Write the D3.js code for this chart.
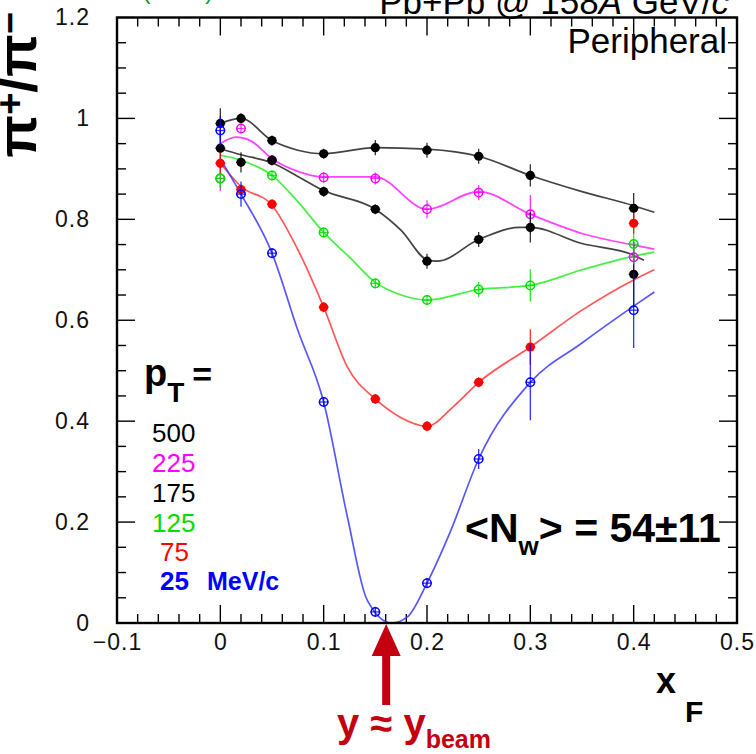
<!DOCTYPE html>
<html>
<head>
<meta charset="utf-8">
<script src="https://cdn.jsdelivr.net/npm/d3@7"></script>
<style>
  html, body { margin: 0; padding: 0; background: #fff; }
  svg { display: block; font-family: "Liberation Sans", Arial, Helvetica, sans-serif; }
</style>
</head>
<body>
<svg id="chart" width="756" height="754"></svg>
<script>
// Measured x_F bins
const xF = [0, 0.02, 0.05, 0.1, 0.15, 0.2, 0.25, 0.3, 0.4];

// pi+/pi- ratio per pT bin (MeV/c) and its errors
const pt500 = [0.990, 1.000, 0.956, 0.930, 0.942, 0.937, 0.925, 0.887, 0.822];
const err500 = [0.03, 0.01, 0.01, 0.01, 0.015, 0.015, 0.015, 0.022, 0.03];
const pt225 = [0.881, 0.980, 0.917, 0.883, 0.881, 0.820, 0.853, 0.810, 0.725];
const err225 = [0.025, 0.01, 0.01, 0.01, 0.012, 0.018, 0.015, 0.038, 0.03];
const pt175 = [0.941, 0.913, 0.917, 0.855, 0.820, 0.717, 0.760, 0.784, 0.691];
const err175 = [0.035, 0.02, 0.01, 0.01, 0.01, 0.015, 0.015, 0.03, 0.065];
const pt125 = [0.881, null, 0.887, 0.774, 0.673, 0.640, 0.661, 0.669, 0.751];
const err125 = [0.02, null, 0.01, 0.01, 0.01, 0.01, 0.015, 0.032, 0.04];
const pt75 = [0.911, 0.859, 0.830, 0.626, 0.444, 0.390, 0.477, 0.547, 0.792];
const err75 = [0.02, 0.01, 0.01, 0.01, 0.01, 0.01, 0.01, 0.035, 0.02];
const pt25 = [0.976, 0.850, 0.733, 0.438, 0.022, 0.079, 0.325, 0.477, 0.620];
const err25 = [0.03, 0.025, 0.01, 0.01, 0.01, 0.01, 0.02, 0.075, 0.075];

// Smooth fit curves through each pT bin: [x_F, ratio]
const fit500 = [[0,0.99],[0.02,1.0],[0.05,0.956],[0.075,0.937],[0.1,0.93],[0.15,0.942],[0.2,0.939],[0.25,0.925],[0.3,0.887],[0.35,0.855],[0.4,0.827],[0.42,0.814]];
const fit225 = [[0,0.95],[0.015,0.963],[0.03,0.955],[0.05,0.92],[0.075,0.895],[0.1,0.884],[0.15,0.884],[0.2,0.82],[0.25,0.855],[0.3,0.81],[0.35,0.772],[0.4,0.749],[0.42,0.741]];
const fit175 = [[0,0.94],[0.02,0.928],[0.05,0.912],[0.075,0.885],[0.1,0.857],[0.15,0.82],[0.175,0.778],[0.2,0.72],[0.21,0.717],[0.25,0.76],[0.29,0.784],[0.3,0.784],[0.35,0.752],[0.4,0.729],[0.41,0.719]];
const fit125 = [[0,0.927],[0.02,0.917],[0.05,0.887],[0.075,0.835],[0.1,0.774],[0.125,0.725],[0.15,0.675],[0.175,0.65],[0.2,0.64],[0.25,0.661],[0.3,0.669],[0.35,0.7],[0.4,0.727],[0.42,0.735]];
const fit75 = [[0,0.911],[0.02,0.865],[0.05,0.828],[0.075,0.74],[0.1,0.626],[0.123,0.507],[0.15,0.444],[0.174,0.408],[0.2,0.39],[0.225,0.428],[0.25,0.477],[0.3,0.547],[0.35,0.62],[0.4,0.68],[0.42,0.70]];
const fit25 = [[0,0.92],[0.02,0.85],[0.05,0.733],[0.075,0.58],[0.1,0.438],[0.123,0.21],[0.142,0.046],[0.166,0.0],[0.181,0.012],[0.2,0.079],[0.222,0.178],[0.25,0.325],[0.3,0.477],[0.35,0.555],[0.4,0.628],[0.42,0.656]];

// Legend labels
const ptLabels = ["500", "225", "175", "125", "75", "25"];
const xTickLabels = ["\u22120.1", "0", "0.1", "0.2", "0.3", "0.4", "0.5"];
const yTickLabels = ["0", "0.2", "0.4", "0.6", "0.8", "1", "1.2"];

const series = [
  { pts: pt500, err: err500, fit: fit500, color: "#000000", line: "#222222", open: false },
  { pts: pt225, err: err225, fit: fit225, color: "#ff00ff", line: "#ff22ff", open: true },
  { pts: pt175, err: err175, fit: fit175, color: "#000000", line: "#222222", open: false },
  { pts: pt125, err: err125, fit: fit125, color: "#00dd00", line: "#22ee22", open: true },
  { pts: pt75,  err: err75,  fit: fit75,  color: "#ff0000", line: "#ff3a3a", open: false },
  { pts: pt25,  err: err25,  fit: fit25,  color: "#0000ff", line: "#3a3aff", open: true }
];

const svg = d3.select("#chart");
const L = 117, R = 737, T = 17.5, B = 623;

const x = d3.scaleLinear().domain([-0.1, 0.5]).range([L, R]);
const y = d3.scaleLinear().domain([0, 1.2]).range([B, T]);

// Frame ticks (inward on all four sides)
const majorLen = 18, minorLen = 9;
const xMinor = d3.range(-0.1, 0.5001, 0.02).map(v => +v.toFixed(3));
const yMinor = d3.range(0, 1.2001, 0.05).map(v => +v.toFixed(3));
const isMajorX = v => Math.abs(Math.round(v * 10) - v * 10) < 1e-6;
const isMajorY = v => Math.abs(Math.round(v * 5) - v * 5) < 1e-6;

const axes = svg.append("g").attr("stroke", "#000").attr("fill", "none");
xMinor.forEach(v => {
  const len = isMajorX(v) ? majorLen : minorLen;
  axes.append("line").attr("x1", x(v)).attr("x2", x(v)).attr("y1", B).attr("y2", B - len).attr("stroke-width", 1.4);
  axes.append("line").attr("x1", x(v)).attr("x2", x(v)).attr("y1", T).attr("y2", T + len).attr("stroke-width", 1.4);
});
yMinor.forEach(v => {
  const len = isMajorY(v) ? majorLen : minorLen;
  axes.append("line").attr("x1", L).attr("x2", L + len).attr("y1", y(v)).attr("y2", y(v)).attr("stroke-width", 1.4);
  axes.append("line").attr("x1", R).attr("x2", R - len).attr("y1", y(v)).attr("y2", y(v)).attr("stroke-width", 1.4);
});

// Tick labels via d3 axes
const xAxis = d3.axisBottom(x)
  .tickValues([-0.1, 0, 0.1, 0.2, 0.3, 0.4, 0.5])
  .tickSize(0).tickPadding(0)
  .tickFormat((d, i) => xTickLabels[i]);
const gx = svg.append("g").attr("transform", `translate(0,${B + 5})`).call(xAxis);
gx.select(".domain").remove();
gx.selectAll("text").attr("font-size", 23).attr("fill", "#111").attr("letter-spacing", "1px")
  .attr("font-family", "Liberation Sans, Arial, sans-serif").attr("dy", "0.95em");

const yAxis = d3.axisLeft(y)
  .tickValues([0, 0.2, 0.4, 0.6, 0.8, 1.0, 1.2])
  .tickSize(0).tickPadding(0)
  .tickFormat((d, i) => yTickLabels[i]);
const gy = svg.append("g").attr("transform", `translate(${L - 27},0)`).call(yAxis);
gy.select(".domain").remove();
gy.selectAll("text").attr("font-size", 23).attr("fill", "#111").attr("letter-spacing", "1px")
  .attr("font-family", "Liberation Sans, Arial, sans-serif");

// Fit curves
const lineGen = d3.line().x(d => x(d[0])).y(d => y(d[1])).curve(d3.curveMonotoneX);
const gCurves = svg.append("g").attr("fill", "none");
series.forEach(s => {
  gCurves.append("path").attr("d", lineGen(s.fit))
    .attr("stroke", s.line).attr("stroke-width", 1.7).attr("stroke-opacity", 0.85);
});

// Data points with error bars
const gPts = svg.append("g");
series.forEach(s => {
  s.pts.forEach((v, i) => {
    if (v === null) return;
    const cx = x(xF[i]), cy = y(v), e = s.err[i];
    gPts.append("line").attr("x1", cx).attr("x2", cx).attr("y1", y(v - e)).attr("y2", y(v + e))
      .attr("stroke", s.color).attr("stroke-width", 1.3).attr("stroke-opacity", 0.8);
    gPts.append("line").attr("x1", cx - 5).attr("x2", cx + 5).attr("y1", cy).attr("y2", cy)
      .attr("stroke", s.color).attr("stroke-width", 1.3).attr("stroke-opacity", 0.8);
    if (s.open) {
      gPts.append("circle").attr("cx", cx).attr("cy", cy).attr("r", 4.2)
        .attr("fill", "none").attr("stroke", s.color).attr("stroke-width", 1.5);
    } else {
      gPts.append("circle").attr("cx", cx).attr("cy", cy).attr("r", 4.6).attr("fill", s.color);
    }
  });
});

// Frame
svg.append("rect").attr("x", L).attr("y", T).attr("width", R - L).attr("height", B - T)
  .attr("fill", "none").attr("stroke", "#000").attr("stroke-width", 2.4);

// Y axis title
svg.append("text")
  .attr("transform", "translate(36,12) rotate(-90)")
  .attr("text-anchor", "end")
  .attr("font-size", 56).attr("font-weight", "bold").attr("fill", "#000")
  .html('\u03c0<tspan dy="-13" font-size="38">+</tspan><tspan dy="13">/\u03c0</tspan><tspan dy="-13" font-size="38">\u2212</tspan>');

// X axis title
svg.append("text").attr("x", 656).attr("y", 693).attr("font-size", 36).attr("font-weight", "bold").text("x");
svg.append("text").attr("x", 685).attr("y", 722).attr("font-size", 30).attr("font-weight", "bold").text("F");

// Header texts
svg.append("text").attr("x", 143).attr("y", -1).attr("font-size", 22).attr("fill", "#009900").text("(NA49)");
svg.append("text").attr("x", 729).attr("y", 14).attr("text-anchor", "end").attr("font-size", 35).attr("fill", "#000")
  .html('Pb+Pb @ 158<tspan font-style="italic">A</tspan> GeV/<tspan font-style="italic">c</tspan>');
svg.append("text").attr("x", 727).attr("y", 53).attr("text-anchor", "end").attr("font-size", 35).attr("fill", "#000").text("Peripheral");

// Centrality annotation
svg.append("text").attr("x", 465).attr("y", 542).attr("font-size", 41).attr("font-weight", "bold").attr("fill", "#000")
  .html('&lt;N<tspan dy="13" font-size="26">w</tspan><tspan dy="-13">&gt; = 54\u00b111</tspan>');

// pT legend
svg.append("text").attr("x", 144).attr("y", 386).attr("font-size", 38).attr("font-weight", "bold").attr("fill", "#000")
  .html('p<tspan dy="16" font-size="28">T</tspan><tspan dy="-16" dx="8" font-size="34">=</tspan>');
const legColors = ["#000000", "#ff00ff", "#000000", "#00dd00", "#ff0000", "#0000ff"];
const legX = [152, 152, 152, 152, 160, 160];
const legY = [442, 472, 502, 532, 561, 590];
ptLabels.forEach((t, i) => {
  svg.append("text").attr("x", legX[i]).attr("y", legY[i]).attr("font-size", 26)
    .attr("font-weight", i === 5 ? "bold" : "normal").attr("fill", legColors[i]).text(t);
});
svg.append("text").attr("x", 207).attr("y", 590).attr("font-size", 25).attr("font-weight", "bold")
  .attr("fill", "#0000ff").text("MeV/c");

// Beam rapidity marker
const xBeam = 0.1605;
const ax = x(xBeam);
svg.append("path")
  .attr("d", `M${ax},${B + 1} L${ax - 14.5},${B + 33} L${ax - 4},${B + 33} L${ax - 4},${B + 82} L${ax + 4},${B + 82} L${ax + 4},${B + 33} L${ax + 14.5},${B + 33} Z`)
  .attr("fill", "#c40010");
svg.append("text").attr("x", 337).attr("y", 737).attr("font-size", 40).attr("font-weight", "bold").attr("fill", "#c40010")
  .html('y \u2248 y<tspan dy="11" font-size="25">beam</tspan>');
</script>
</body>
</html>
